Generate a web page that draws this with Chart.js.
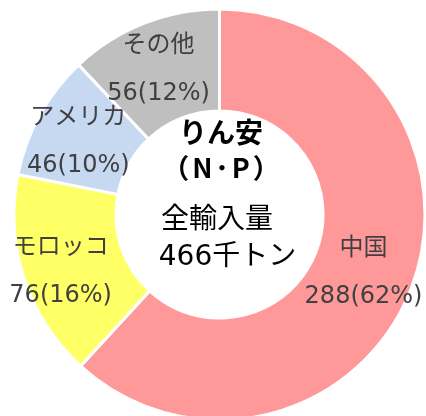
<!DOCTYPE html>
<html lang="ja">
<head>
    <meta charset="UTF-8">
    <title>りん安 輸入量</title>
    <script src="https://cdn.jsdelivr.net/npm/chart.js"></script>
    <style>
        html, body {
            margin: 0;
            padding: 0;
            background: #fff;
            overflow: hidden;
        }
        #chart-container {
            position: relative;
            width: 430px;
            height: 440px;
        }
    </style>
</head>
<body>

    <div id="chart-container">
        <canvas id="importChart"></canvas>
    </div>

    <script>
        // 輸入先（千トン）
        const countries = ['中国', 'モロッコ', 'アメリカ', 'その他'];
        const amounts = [288, 76, 46, 56];
        const sliceColors = ['#FF9999', '#FFFF66', '#C6D9F1', '#BFBFBF'];
        const centerLines = ['りん安', '（N･P）', '全輸入量', '466千トン'];

        // ラベルの微調整 (px)
        const labelNudge = [[0, 2], [-12, 9], [-6, 2], [-4, -1]];

        const FONT = '"DejaVu Sans", "Noto Sans CJK JP", sans-serif';
        const CJK = '"Noto Sans CJK JP", sans-serif';
        const total = amounts.reduce((a, b) => a + b, 0);

        const sliceLabels = {
            id: 'sliceLabels',
            afterDatasetsDraw(chart) {
                const ctx = chart.ctx;
                const meta = chart.getDatasetMeta(0);
                ctx.save();
                ctx.textAlign = 'center';
                ctx.textBaseline = 'middle';
                ctx.fillStyle = '#404040';
                ctx.font = '24px ' + FONT;
                meta.data.forEach((arc, i) => {
                    const p = arc.getProps(['x', 'y', 'startAngle', 'endAngle', 'innerRadius', 'outerRadius'], true);
                    const mid = (p.startAngle + p.endAngle) / 2;
                    const r = (p.innerRadius + p.outerRadius) / 2;
                    const x = p.x + Math.cos(mid) * r + labelNudge[i][0];
                    const y = p.y + Math.sin(mid) * r + labelNudge[i][1];
                    const pct = Math.round(amounts[i] / total * 100);
                    ctx.fillText(countries[i], x, y - 24);
                    ctx.fillText(amounts[i] + '(' + pct + '%)', x, y + 24);
                });

                // 中央の文字
                const cx = meta.data[0].x;
                const cy = meta.data[0].y;
                ctx.fillStyle = '#000';
                ctx.font = 'bold 28px ' + CJK;
                ctx.fillText(centerLines[0], cx + 1.5, cy - 82);
                ctx.font = 'bold 27px ' + CJK;
                ctx.letterSpacing = '3px';
                ctx.fillText(centerLines[1], cx + 3, cy - 47);
                ctx.letterSpacing = '0px';
                ctx.font = '28px ' + FONT;
                ctx.fillText(centerLines[2], cx - 2.5, cy + 6);
                ctx.fillText(centerLines[3], cx + 8, cy + 43);
                ctx.restore();
            }
        };

        const ctx = document.getElementById('importChart').getContext('2d');
        const chart = new Chart(ctx, {
            type: 'doughnut',
            data: {
                labels: countries,
                datasets: [{
                    data: amounts,
                    backgroundColor: sliceColors,
                    borderColor: '#ffffff',
                    borderWidth: 3
                }]
            },
            options: {
                responsive: true,
                maintainAspectRatio: false,
                animation: false,
                cutout: '50.4%',
                layout: {
                    padding: { left: 12.5, top: 7.5, right: 3.5, bottom: 18.5 }
                },
                plugins: {
                    legend: { display: false },
                    tooltip: { enabled: false }
                }
            },
            plugins: [sliceLabels]
        });
    </script>

</body>
</html>
